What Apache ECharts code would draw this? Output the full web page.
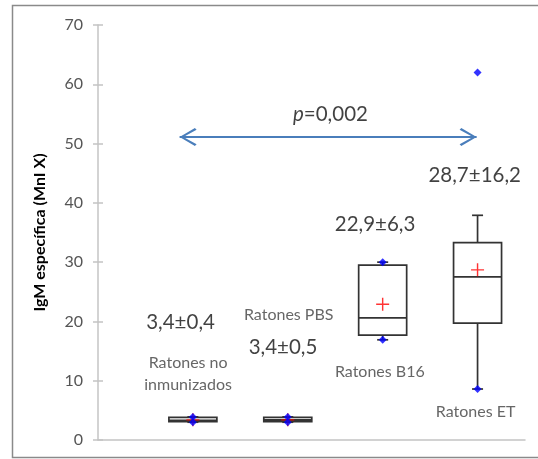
<!DOCTYPE html>
<html>
<head>
<meta charset="utf-8">
<script src="https://cdn.jsdelivr.net/npm/echarts@6/dist/echarts.min.js"></script>
<style>
html, body { margin: 0; padding: 0; background: #fff; }
#box { width: 538px; height: 459px; }
</style>
</head>
<body>
<div id="box"></div>
<script>
var myChart = echarts.init(document.getElementById("box"));

// group positions on the x value axis
var groups = [1, 2, 3, 4];
var mins = [3.0, 3.0, 16.9, 8.6];
var q1s = [3.1, 3.1, 17.7, 19.7];
var medians = [3.3, 3.4, 20.6, 27.5];
var q3s = [3.8, 3.8, 29.5, 33.3];
var maxs = [3.9, 3.9, 30.0, 37.9];
var means = [3.4, 3.4, 22.9, 28.7];
// blue points: extremes and outlier
var bluePoints = [[1, 3.0], [1, 3.9], [2, 3.0], [2, 3.9], [3, 30.0], [3, 16.9], [4, 8.6], [4, 62.0]];

var statTexts = ['3,4±0,4', '3,4±0,5', '22,9±6,3', '28,7±16,2'];
var statAt = [[0.87, 19.9], [1.95, 15.7], [2.92, 36.3], [3.97, 44.7]];
var groupNames = ['Ratones no\ninmunizados', 'Ratones PBS', 'Ratones B16', 'Ratones ET'];
var nameAt = [[0.95, 11.1], [2.01, 21.1], [2.97, 11.5], [3.98, 4.7]];

var arrowY = 51.1;
var arrowFrom = 0.86, arrowTo = 3.99;
var pText = 'p=0,002';
var pAt = [2.45, 55.0];

var yTicks = [0, 10, 20, 30, 40, 50, 60, 70];

var boxData = groups.map(function (g, i) {
    return [g, q1s[i], q1s[i], medians[i], q3s[i], q3s[i]];
});
var whiskerData = groups.map(function (g, i) {
    return [g, mins[i], q1s[i], q3s[i], maxs[i]];
});
var meanData = groups.map(function (g, i) { return [g, means[i]]; });

var fontName = 'Lato, "Open Sans", sans-serif';
var boxLine = '#333333';

// open chevron, tip at the centre of its box
var chevron = 'path://M5,0L5.01,0L5,0.01Z M5,10L10,19L9,20L5,12.2L1,20L0,19Z';
var plus = 'path://M4.45,0h1.1v4.45h4.45v1.1h-4.45v4.45h-1.1v-4.45h-4.45v-1.1h4.45z';

var option = {
    backgroundColor: '#fff',
    animation: false,
    textStyle: { fontFamily: fontName },
    graphic: [{
        type: 'rect',
        shape: { x: 12.5, y: 5.5, width: 560, height: 452 },
        style: { fill: 'none', stroke: '#8a8a8a', lineWidth: 1.5 },
        silent: true
    }],
    grid: { left: 98, right: 13, top: 25, bottom: 19 },
    xAxis: {
        type: 'value',
        min: 0,
        max: 4.5,
        axisLine: { show: true, lineStyle: { color: '#c4c4c4', width: 1.5 } },
        axisTick: { show: false },
        axisLabel: { show: false },
        splitLine: { show: false }
    },
    yAxis: [{
        type: 'value',
        min: yTicks[0],
        max: yTicks[yTicks.length - 1],
        interval: 10,
        name: 'IgM específica (MnI X)',
        nameLocation: 'middle',
        nameGap: 50,
        nameTextStyle: { fontSize: 16, fontWeight: 'bold', color: '#000', fontFamily: fontName },
        axisLine: { show: true, lineStyle: { color: '#c4c4c4', width: 1.5 } },
        axisTick: { show: true, length: 5, lineStyle: { color: '#c4c4c4', width: 1.5 } },
        axisLabel: { fontSize: 16, color: '#555555', margin: 15, fontFamily: fontName },
        splitLine: { show: false }
    }, {
        type: 'value',
        position: 'left',
        min: yTicks[0],
        max: yTicks[yTicks.length - 1],
        interval: 10,
        axisLine: { show: false },
        axisTick: { show: true, inside: true, length: 5, lineStyle: { color: '#c4c4c4', width: 1.5 } },
        axisLabel: { show: false },
        splitLine: { show: false }
    }],
    series: [
    {
        type: 'boxplot',
        data: boxData,
        boxWidth: [48, 48],
        itemStyle: { color: '#fff', borderColor: boxLine, borderWidth: 1.7 },
        emphasis: { disabled: true },
        silent: true,
        z: 2
    },
    {
        type: 'custom',
        data: whiskerData,
        silent: true,
        z: 3,
        renderItem: function (params, api) {
            var x = api.value(0);
            var lo = api.coord([x, api.value(1)]);
            var b1 = api.coord([x, api.value(2)]);
            var b3 = api.coord([x, api.value(3)]);
            var hi = api.coord([x, api.value(4)]);
            var st = { stroke: boxLine, lineWidth: 1.7 };
            var h = 5.5;
            return {
                type: 'group',
                children: [
                    { type: 'line', shape: { x1: hi[0], y1: hi[1], x2: b3[0], y2: b3[1] }, style: st },
                    { type: 'line', shape: { x1: hi[0] - h, y1: hi[1], x2: hi[0] + h, y2: hi[1] }, style: st },
                    { type: 'line', shape: { x1: lo[0], y1: lo[1], x2: b1[0], y2: b1[1] }, style: st },
                    { type: 'line', shape: { x1: lo[0] - h, y1: lo[1], x2: lo[0] + h, y2: lo[1] }, style: st }
                ]
            };
        }
    },
    {
        type: 'scatter',
        data: meanData,
        symbol: plus,
        symbolSize: 13,
        itemStyle: { color: '#ff0000' },
        silent: true,
        z: 4
    },
    {
        type: 'scatter',
        data: bluePoints,
        symbol: 'diamond',
        symbolSize: [8, 8],
        itemStyle: { color: '#0000ff' },
        silent: true,
        z: 5
    },
    {
        type: 'scatter',
        data: statAt.map(function (p, i) {
            return { value: p, label: { formatter: statTexts[i] } };
        }),
        symbolSize: 1,
        itemStyle: { color: 'transparent' },
        label: { show: true, position: 'inside', fontSize: 20.5, color: '#111', fontFamily: fontName },
        silent: true,
        z: 6
    },
    {
        type: 'scatter',
        data: nameAt.map(function (p, i) {
            return { value: p, label: { formatter: groupNames[i] } };
        }),
        symbolSize: 1,
        itemStyle: { color: 'transparent' },
        label: { show: true, position: 'inside', fontSize: 16, lineHeight: 22, color: '#404040', fontFamily: fontName },
        silent: true,
        z: 6
    },
    {
        type: 'scatter',
        data: [{ value: pAt }],
        symbolSize: 1,
        itemStyle: { color: 'transparent' },
        label: {
            show: true,
            position: 'inside',
            formatter: '{i|' + pText.charAt(0) + '}{n|' + pText.substring(1) + '}',
            rich: {
                i: { fontSize: 20.5, fontStyle: 'italic', color: '#111', fontFamily: fontName },
                n: { fontSize: 20.5, color: '#111', fontFamily: fontName }
            }
        },
        silent: true,
        z: 6,
        markLine: {
            silent: true,
            symbol: [chevron, chevron],
            symbolSize: [18, 34],
            label: { show: false },
            lineStyle: { color: '#4a7ebb', width: 2, type: 'solid' },
            emphasis: { disabled: true },
            data: [[{ coord: [arrowFrom, arrowY] }, { coord: [arrowTo, arrowY] }]]
        }
    }
    ]
};

myChart.setOption(option);
</script>
</body>
</html>
